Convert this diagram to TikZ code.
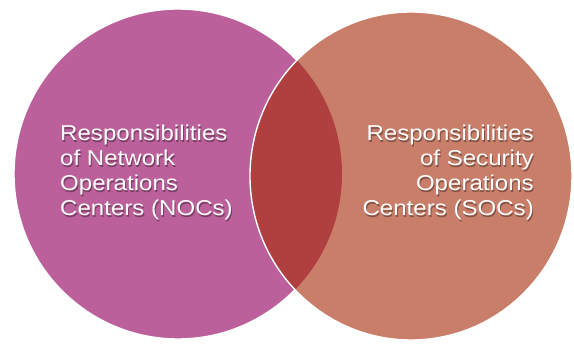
\documentclass[tikz,border=0pt]{standalone}
\usepackage{fontspec}
\newfontfamily\vennFont[FakeStretch=1.12]{Liberation Sans}
\usetikzlibrary{positioning}
\tikzstyle{venn} = [x = 1pt, y = -1pt]
\definecolor{nocColor}{RGB}{187,96,154}
\definecolor{socColor}{RGB}{201,126,106}
\definecolor{overlapColor}{RGB}{176,64,64}
\tikzstyle{circleShadow} = [fill=black, opacity=0.06]
\tikzstyle{circleEdge} = [draw=white, line width=1.4pt]
\tikzstyle{vennText} = [text=white, font=\vennFont\fontsize{21.5}{25}\selectfont, inner sep=0]
\tikzstyle{vennTextShadow} = [vennText, text=black, opacity=0.35]
\newcommand{\nocRadius}{x radius=164pt, y radius=165pt}
\newcommand{\socRadius}{x radius=161pt, y radius=164pt}
\newcommand{\circleShadows}[2]{
  \foreach \off in {1,2,3} {
    \fill [circleShadow, xshift=\off pt, yshift=-1.5*\off pt] (#1) ellipse [#2];
  }
}
\newcommand{\vennLabel}[5]{
  \node [vennTextShadow, anchor=#2, align=#3, xshift=1pt, yshift=-1.3pt] (#1Shadow) at (#4) {#5};
  \node [vennText, anchor=#2, align=#3] (#1) at (#4) {#5};
}

\begin{document}
\begin{tikzpicture}[venn]
  \useasboundingbox [fill=white] (0,0) rectangle (574,347);
  \coordinate (nocCenter) at (178,174);
  \coordinate (socCenter) at (411,176);
  % shadows
  \circleShadows{nocCenter}{x radius=164pt, y radius=165pt}
  \circleShadows{socCenter}{x radius=161pt, y radius=164pt}
  % circles
  \filldraw [circleEdge, fill=nocColor] (nocCenter) ellipse [x radius=164pt, y radius=165pt];
  \fill [socColor] (socCenter) ellipse [x radius=161pt, y radius=164pt];
  \begin{scope}
    \clip (nocCenter) ellipse [x radius=164pt, y radius=165pt];
    \fill [overlapColor] (socCenter) ellipse [x radius=161pt, y radius=164pt];
  \end{scope}
  \draw [circleEdge] (socCenter) ellipse [x radius=161pt, y radius=164pt];
  % labels
  \coordinate (nocCorner) at (60,125);
  \coordinate (socCorner) at (534,125);
  \vennLabel{nocText}{north west}{left}{nocCorner}{Responsibilities\\of Network\\Operations\\Centers (NOCs)}
  \vennLabel{socText}{north east}{right}{socCorner}{Responsibilities\\of Security\\Operations\\Centers (SOCs)}
\end{tikzpicture}
\end{document}
